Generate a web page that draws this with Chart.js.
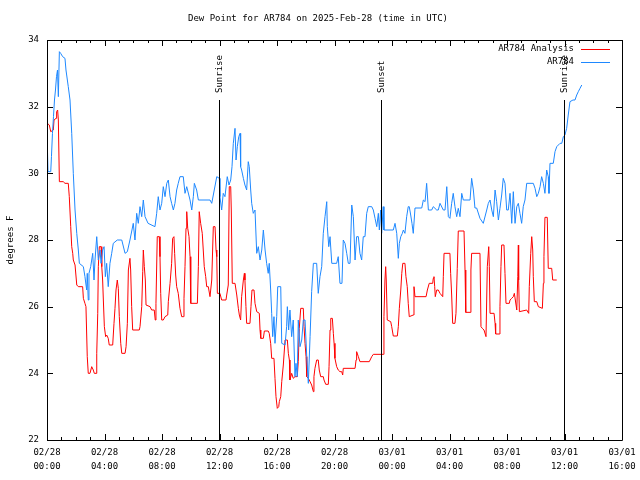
<!DOCTYPE html>
<html>
<head>
<meta charset="utf-8">
<title>Dew Point for AR784</title>
<script src="https://cdn.jsdelivr.net/npm/chart.js@4.4.1/dist/chart.umd.min.js"></script>
<style>
  html, body { margin: 0; padding: 0; background: #fff; }
</style>
</head>
<body>
<canvas id="dewChart" width="640" height="480"></canvas>
<script>
// hours since 2025-02-28 00:00 UTC
const chartTitle = 'Dew Point for AR784 on 2025-Feb-28 (time in UTC)';
const seriesNames = ['AR784 Analysis', 'AR784'];
const dayLabels = ['02/28', '03/01'];
const sunTimes = [11.99, 23.26, 35.99];
const sunLabels = ['Sunrise', 'Sunset', 'Sunrise'];

const redHours = [
  0.02, 0.16, 0.26, 0.44, 0.49, 0.63, 0.67, 0.74, 0.79, 0.86,
  1.13, 1.25, 1.48, 1.55, 1.65, 1.72, 1.79, 1.83, 1.95, 2.07,
  2.18, 2.48, 2.53, 2.64, 2.71, 2.80, 2.87, 2.99, 3.11, 3.22,
  3.29, 3.41, 3.46, 3.53, 3.57, 3.64, 3.76, 3.81, 3.87, 3.92,
  3.99, 4.08, 4.15, 4.26, 4.33, 4.57, 4.66, 4.73, 4.80, 4.89,
  4.96, 5.03, 5.13, 5.20, 5.43, 5.50, 5.59, 5.66, 5.77, 5.82,
  5.89, 5.96, 6.42, 6.47, 6.59, 6.66, 6.70, 6.77, 6.84, 6.89,
  7.17, 7.28, 7.46, 7.53, 7.58, 7.67, 7.81, 7.86, 7.91, 7.98,
  8.09, 8.21, 8.40, 8.44, 8.56, 8.67, 8.74, 8.83, 8.88, 8.95,
  9.02, 9.13, 9.25, 9.37, 9.48, 9.53, 9.60, 9.67, 9.72, 9.79,
  9.88, 9.95, 10.00, 10.46, 10.53, 10.59, 10.69, 10.80, 10.87, 10.94,
  11.04, 11.11, 11.22, 11.34, 11.46, 11.57, 11.69, 11.76, 11.81, 11.85,
  12.03, 12.15, 12.45, 12.50, 12.61, 12.68, 12.78, 12.82, 12.89, 13.08,
  13.20, 13.31, 13.38, 13.47, 13.54, 13.66, 13.73, 13.77, 13.84, 13.89,
  14.12, 14.19, 14.26, 14.40, 14.47, 14.59, 14.77, 14.82, 14.87, 15.05,
  15.12, 15.39, 15.46, 15.56, 15.63, 15.79, 15.86, 15.93, 16.02, 16.12,
  16.16, 16.26, 16.33, 16.44, 16.56, 16.72, 16.79, 16.86, 16.90, 17.02,
  17.13, 17.25, 17.41, 17.48, 17.55, 17.65, 17.83, 17.88, 17.95, 18.02,
  18.07, 18.18, 18.30, 18.41, 18.53, 18.57, 18.64, 18.76, 18.87, 18.94,
  19.04, 19.22, 19.27, 19.39, 19.57, 19.62, 19.69, 19.74, 19.85, 19.92,
  19.97, 20.03, 20.15, 20.26, 20.38, 20.50, 20.57, 20.61, 21.43, 21.50,
  21.54, 21.66, 21.77, 22.42, 22.59, 22.70, 23.39, 23.44, 23.51, 23.56,
  23.60, 23.67, 23.91, 23.98, 24.09, 24.37, 24.44, 24.51, 24.61, 24.68,
  24.75, 24.90, 24.97, 25.06, 25.13, 25.20, 25.48, 25.53, 25.60, 26.37,
  26.46, 26.59, 26.83, 26.87, 26.92, 26.97, 27.01, 27.11, 27.22, 27.34,
  27.53, 27.57, 27.62, 28.03, 28.08, 28.15, 28.22, 28.38, 28.45, 28.54,
  28.61, 29.01, 29.08, 29.13, 29.43, 29.49, 29.54, 30.12, 30.19, 30.28,
  30.40, 30.54, 30.63, 30.73, 30.77, 30.82, 31.10, 31.17, 31.21, 31.46,
  31.51, 31.58, 31.63, 31.79, 31.86, 31.93, 32.16, 32.21, 32.33, 32.44,
  32.51, 32.58, 32.68, 32.75, 32.79, 32.81, 32.86, 33.37, 33.51, 33.55,
  33.65, 33.72, 33.79, 33.83, 33.90, 34.07, 34.18, 34.46, 34.53, 34.57,
  34.64, 34.80, 34.87, 35.11, 35.18, 35.46
];
const redValues = [
  31.5, 31.45, 31.25, 31.3, 31.6, 31.65, 31.85, 31.9, 31.6, 29.75,
  29.75, 29.7, 29.7, 29.3, 28.4, 27.8, 27.6, 27.4, 27.25, 26.65,
  26.6, 26.6, 26.25, 26.1, 26.0, 24.5, 24.0, 24.0, 24.2, 24.1,
  24.0, 24.0, 24.6, 25.8, 27.2, 27.8, 27.8, 27.2, 26.8, 26.2,
  25.4, 25.1, 25.15, 25.05, 24.85, 24.85, 25.5, 25.95, 26.5, 26.8,
  26.55, 25.7, 24.9, 24.6, 24.6, 24.8, 25.5, 27.1, 27.45, 27.1,
  26.0, 25.3, 25.3, 25.4, 26.0, 27.05, 27.7, 27.2, 26.8, 26.05,
  26.0, 25.9, 25.9, 25.6, 26.1, 28.1, 28.1, 27.5, 26.4, 25.6,
  25.6, 25.7, 25.75, 26.15, 26.7, 27.3, 28.05, 28.1, 27.6, 26.95,
  26.6, 26.4, 25.95, 25.7, 25.7, 26.25, 27.2, 28.35, 28.85, 28.35,
  28.1, 27.5, 26.1, 26.1, 27.2, 28.85, 28.5, 28.2, 27.7, 27.2,
  26.9, 26.6, 26.6, 26.3, 26.8, 28.4, 28.4, 27.7, 27.5, 26.4,
  26.4, 26.2, 26.2, 26.35, 26.65, 29.6, 29.6, 28.9, 26.7, 26.7,
  26.35, 25.95, 25.75, 25.6, 26.3, 26.8, 27.0, 26.8, 26.0, 25.5,
  25.5, 26.0, 26.5, 26.5, 26.1, 25.85, 25.8, 25.3, 25.05, 25.05,
  25.27, 25.27, 25.2, 24.9, 24.45, 24.45, 23.85, 23.3, 22.95, 23.0,
  23.15, 23.3, 23.75, 24.25, 25.0, 25.0, 24.6, 24.4, 23.8, 24.0,
  23.85, 23.9, 23.9, 24.35, 25.35, 25.95, 25.95, 25.4, 24.9, 24.5,
  23.9, 23.85, 23.75, 23.65, 23.45, 23.9, 24.15, 24.4, 24.4, 24.1,
  23.9, 23.9, 23.8, 23.67, 23.67, 24.2, 25.3, 25.65, 25.65, 25.2,
  24.9, 24.45, 24.2, 24.1, 24.05, 24.05, 23.95, 24.15, 24.15, 24.4,
  24.65, 24.5, 24.35, 24.35, 24.5, 24.57, 24.57, 25.7, 26.8, 27.2,
  26.8, 25.6, 25.55, 25.4, 25.12, 25.12, 25.4, 25.95, 26.5, 27.0,
  27.3, 27.3, 26.9, 26.6, 26.1, 25.7, 25.75, 26.6, 26.3, 26.3,
  26.5, 26.7, 26.7, 26.85, 26.9, 26.6, 26.3, 26.5, 26.5, 26.4,
  26.3, 26.9, 27.6, 27.6, 27.0, 26.35, 25.5, 25.5, 25.8, 27.15,
  28.27, 28.27, 27.1, 25.83, 25.83, 27.1, 27.6, 27.6, 25.4, 25.35,
  25.3, 25.1, 27.2, 27.8, 27.2, 25.8, 25.8, 25.5, 25.18, 25.18,
  26.0, 27.2, 27.85, 27.85, 27.0, 26.1, 26.1, 26.2, 26.25, 26.3,
  26.4, 26.2, 25.9, 26.9, 27.85, 26.8, 25.85, 25.9, 25.8, 26.6,
  27.6, 28.1, 27.7, 26.9, 26.15, 26.15, 26.0, 25.95, 26.7, 27.5,
  28.68, 28.68, 27.15, 27.15, 26.8, 26.8
];

const blueHours = [
  0.02, 0.07, 0.26, 0.31, 0.38, 0.45, 0.52, 0.59, 0.66, 0.73,
  0.79, 0.86, 0.95, 1.09, 1.25, 1.32, 1.48, 1.60, 1.72, 1.83,
  1.95, 2.07, 2.18, 2.25, 2.53, 2.64, 2.76, 2.80, 2.87, 2.92,
  3.04, 3.18, 3.27, 3.34, 3.46, 3.57, 3.69, 3.76, 3.87, 3.97,
  4.06, 4.15, 4.26, 4.38, 4.50, 4.61, 4.89, 5.20, 5.43, 5.59,
  5.77, 5.91, 6.00, 6.12, 6.24, 6.35, 6.47, 6.59, 6.70, 6.82,
  7.03, 7.51, 7.63, 7.74, 7.86, 7.98, 8.09, 8.21, 8.33, 8.44,
  8.56, 8.67, 8.79, 8.90, 9.02, 9.13, 9.25, 9.48, 9.60, 9.72,
  9.95, 10.07, 10.18, 10.25, 10.41, 10.53, 11.34, 11.46, 11.57, 11.81,
  11.99, 12.03, 12.15, 12.26, 12.38, 12.54, 12.66, 12.78, 12.87, 12.96,
  13.08, 13.15, 13.24, 13.34, 13.43, 13.47, 13.54, 13.66, 13.77, 13.89,
  14.00, 14.07, 14.17, 14.24, 14.35, 14.47, 14.59, 14.70, 14.82, 14.94,
  15.05, 15.17, 15.28, 15.39, 15.46, 15.56, 15.63, 15.70, 15.79, 15.86,
  15.98, 16.05, 16.26, 16.33, 16.56, 16.67, 16.72, 16.81, 16.90, 17.02,
  17.13, 17.25, 17.32, 17.41, 17.48, 17.60, 17.72, 17.83, 17.95, 18.07,
  18.18, 18.30, 18.41, 18.53, 18.76, 18.87, 18.99, 19.11, 19.22, 19.34,
  19.46, 19.50, 19.60, 19.69, 19.81, 20.15, 20.26, 20.38, 20.52, 20.61,
  20.73, 20.85, 20.96, 21.08, 21.20, 21.31, 21.43, 21.54, 21.66, 21.77,
  21.89, 22.00, 22.12, 22.24, 22.35, 22.59, 22.70, 22.82, 22.94, 23.05,
  23.12, 23.21, 23.28, 23.39, 23.44, 23.51, 24.09, 24.21, 24.33, 24.44,
  24.51, 24.61, 24.72, 24.79, 24.90, 25.02, 25.13, 25.20, 25.30, 25.39,
  25.48, 25.60, 26.07, 26.18, 26.30, 26.41, 26.53, 26.76, 26.87, 27.11,
  27.22, 27.34, 27.57, 27.69, 27.81, 27.92, 28.03, 28.15, 28.26, 28.38,
  28.50, 28.61, 28.73, 28.85, 28.96, 29.43, 29.54, 29.66, 29.77, 29.89,
  30.12, 30.35, 30.59, 30.70, 30.82, 30.94, 31.05, 31.17, 31.28, 31.40,
  31.51, 31.63, 31.74, 31.86, 31.98, 32.09, 32.21, 32.33, 32.44, 32.56,
  32.68, 32.79, 32.90, 33.02, 33.13, 33.25, 33.37, 33.83, 33.95, 34.07,
  34.18, 34.30, 34.41, 34.53, 34.64, 34.76, 34.87, 34.92, 34.99, 35.22,
  35.34, 35.46, 35.69, 35.81, 35.92, 36.03, 36.15, 36.26, 36.38, 36.59,
  36.73, 36.85, 36.96, 37.08, 37.20
];
const blueValues = [
  30.9, 30.05, 30.05, 30.5, 31.2, 31.7, 32.2, 32.5, 32.9, 33.1,
  32.3, 33.65, 33.6, 33.5, 33.45, 33.1, 32.6, 32.2, 31.2, 30.0,
  28.9, 28.2, 27.7, 27.3, 27.2, 26.9, 26.5, 27.0, 26.2, 27.0,
  27.2, 27.6, 26.8, 27.4, 28.1, 27.4, 27.7, 27.3, 27.7, 27.8,
  26.9, 27.3, 26.6, 27.3, 27.6, 27.9, 28.0, 28.0, 27.6, 27.65,
  28.0, 28.3, 28.5, 28.0, 28.8, 28.5, 29.0, 28.7, 29.2, 28.7,
  28.5, 28.4, 28.8, 29.3, 28.9, 29.1, 29.6, 29.3, 29.7, 29.8,
  29.3, 29.1, 28.9, 29.1, 29.5, 29.7, 29.9, 29.9, 29.4, 29.6,
  29.2, 28.9, 29.3, 29.7, 29.5, 29.2, 29.2, 29.1, 29.35, 29.9,
  29.85, 29.3, 28.9, 29.4, 29.3, 29.9, 29.65, 29.8, 30.2, 30.9,
  31.35, 30.4, 30.8, 31.1, 31.2, 30.2, 30.1, 29.85, 29.65, 29.5,
  30.35, 30.2, 29.5, 29.1, 28.8, 28.9, 27.6, 27.8, 27.4, 27.7,
  28.3, 27.7, 27.3, 27.0, 27.3, 26.5, 25.8, 25.1, 25.7, 24.9,
  25.7, 26.6, 26.6, 24.9, 24.85, 25.4, 26.0, 25.3, 25.9, 25.1,
  25.6, 23.9, 24.3, 23.9, 25.6, 24.8, 25.0, 25.6, 25.6, 24.5,
  23.7, 25.1, 26.45, 27.3, 27.3, 26.4, 26.9, 27.2, 28.2, 28.7,
  29.15, 28.4, 27.8, 28.1, 27.3, 27.3, 27.5, 26.7, 26.7, 28.0,
  27.9, 27.6, 27.3, 27.3, 29.05, 28.7, 27.4, 28.1, 28.1, 27.6,
  27.4, 28.1, 28.1, 28.8, 29.0, 29.0, 28.9, 28.65, 28.4, 28.8,
  28.3, 28.9, 28.2, 29.0, 28.3, 28.3, 28.3, 28.5, 28.2, 27.45,
  27.9, 28.1, 28.2, 28.3, 28.2, 28.7, 29.0, 29.0, 28.75, 28.5,
  28.2, 28.96, 28.96, 29.2, 29.15, 29.7, 28.9, 28.9, 29.0, 28.9,
  28.9, 29.1, 28.9, 28.9, 29.6, 28.7, 28.65, 29.1, 29.4, 29.0,
  28.7, 28.95, 28.7, 29.4, 29.2, 29.2, 29.85, 29.5, 28.96, 28.96,
  28.65, 28.5, 28.9, 29.1, 29.2, 28.9, 28.7, 29.5, 29.15, 28.6,
  28.95, 29.35, 29.85, 29.7, 28.9, 28.9, 29.4, 28.5, 29.45, 28.5,
  29.0, 29.1, 28.8, 28.5, 29.0, 29.2, 29.7, 29.7, 29.55, 29.3,
  29.4, 29.6, 29.9, 29.7, 29.4, 30.1, 29.9, 29.4, 30.3, 30.3,
  30.65, 30.8, 30.9, 30.9, 31.1, 31.15, 31.35, 31.75, 32.15, 32.2,
  32.2, 32.35, 32.45, 32.55, 32.65
];

const FONT = '"DejaVu Sans Mono", "Liberation Mono", monospace';
const RED = '#ff0000';
const BLUE = '#1e88ff';

function toPoints(hours, values) {
  return hours.map((h, i) => ({ x: h, y: values[i] }));
}

// title, border, inward ticks, sunrise/sunset markers and legend, gnuplot style
const gnuplotFrame = {
  id: 'gnuplotFrame',
  afterDatasetsDraw(chart) {
    const ctx = chart.ctx;
    const area = chart.chartArea;
    const xs = chart.scales.x, ys = chart.scales.y;
    const L = Math.round(area.left), R = Math.round(area.right);
    const T = Math.round(area.top), B = Math.round(area.bottom);
    ctx.save();
    ctx.strokeStyle = '#000';
    ctx.fillStyle = '#000';
    ctx.lineWidth = 1;
    ctx.font = '9px ' + FONT;

    ctx.textAlign = 'center';
    ctx.textBaseline = 'middle';
    ctx.fillText(chartTitle, 318, 19);

    ctx.beginPath();
    ctx.rect(L + 0.5, T + 0.5, R - L, B - T);
    for (let h = 0; h <= 40; h++) {
      const x = Math.round(xs.getPixelForValue(h)) + 0.5;
      const len = h % 4 === 0 ? 6 : 3;
      ctx.moveTo(x, B); ctx.lineTo(x, B - len);
      ctx.moveTo(x, T); ctx.lineTo(x, T + len);
    }
    for (let v = 22; v <= 34; v += 2) {
      const y = Math.round(ys.getPixelForValue(v)) + 0.5;
      ctx.moveTo(L, y); ctx.lineTo(L + 6, y);
      ctx.moveTo(R, y); ctx.lineTo(R - 6, y);
    }
    ctx.stroke();

    sunTimes.forEach((t, i) => {
      const x = Math.round(xs.getPixelForValue(t)) + 0.5;
      ctx.beginPath();
      ctx.moveTo(x, ys.getPixelForValue(22));
      ctx.lineTo(x, T + 60);
      ctx.stroke();
      ctx.save();
      ctx.translate(x, T + 53);
      ctx.rotate(-Math.PI / 2);
      ctx.textAlign = 'left';
      ctx.textBaseline = 'middle';
      ctx.fillText(sunLabels[i], 0, 0);
      ctx.restore();
    });

    const colors = [RED, BLUE];
    seriesNames.forEach((name, i) => {
      const y = T + 9 + i * 13;
      ctx.fillStyle = '#000';
      ctx.textAlign = 'right';
      ctx.textBaseline = 'middle';
      ctx.fillText(name, R - 48, y);
      ctx.strokeStyle = colors[i];
      ctx.beginPath();
      ctx.moveTo(R - 41, y + 0.5);
      ctx.lineTo(R - 12, y + 0.5);
      ctx.stroke();
    });
    ctx.restore();
  }
};

new Chart(document.getElementById('dewChart'), {
  type: 'line',
  data: {
    datasets: [
      {
        label: seriesNames[0],
        data: toPoints(redHours, redValues),
        borderColor: RED,
        borderWidth: 1,
        pointRadius: 0,
        tension: 0,
        order: 1
      },
      {
        label: seriesNames[1],
        data: toPoints(blueHours, blueValues),
        borderColor: BLUE,
        borderWidth: 1,
        pointRadius: 0,
        tension: 0,
        order: 0
      }
    ]
  },
  options: {
    responsive: false,
    animation: false,
    events: [],
    layout: { padding: { left: 0, right: 18, top: 40, bottom: 0 } },
    scales: {
      x: {
        type: 'linear',
        min: 0,
        max: 40,
        grid: { display: false, drawTicks: false },
        border: { display: false },
        ticks: {
          stepSize: 4,
          autoSkip: false,
          maxRotation: 0,
          padding: 6,
          color: '#000',
          font: { family: FONT, size: 9, lineHeight: 14 / 9 },
          callback: function(value) {
            const day = dayLabels[Math.floor(value / 24)];
            const hh = String(value % 24).padStart(2, '0');
            return [day, hh + ':00'];
          }
        },
        afterFit: function(s) { s.height = 40; s.paddingLeft = 0; s.paddingRight = 0; }
      },
      y: {
        min: 22,
        max: 34,
        grid: { display: false, drawTicks: false },
        border: { display: false },
        ticks: {
          stepSize: 2,
          padding: 8,
          color: '#000',
          font: { family: FONT, size: 9 }
        },
        title: {
          display: true,
          text: 'degrees F',
          color: '#000',
          font: { family: FONT, size: 9 },
          padding: { top: 5, bottom: 0 }
        },
        afterFit: function(s) { s.width = 47; s.paddingTop = 0; s.paddingBottom = 0; }
      }
    },
    plugins: {
      legend: { display: false },
      tooltip: { enabled: false },
      title: { display: false }
    }
  },
  plugins: [gnuplotFrame]
});
</script>
</body>
</html>
